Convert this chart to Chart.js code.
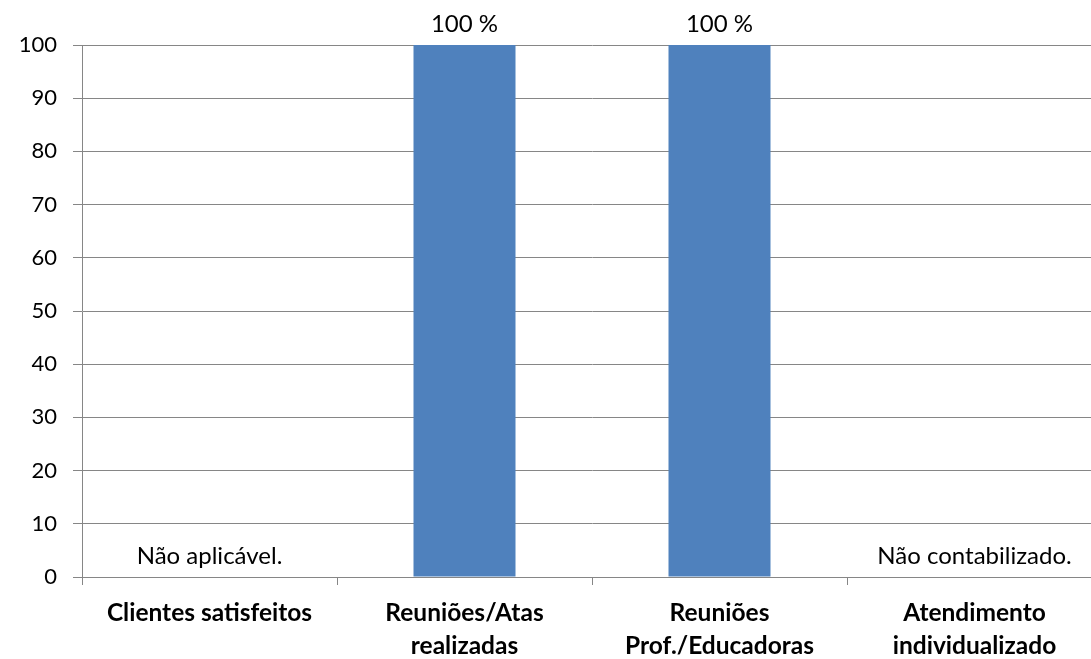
<!DOCTYPE html>
<html>
<head>
<meta charset="utf-8">
<script src="https://cdn.jsdelivr.net/npm/chart.js@4"></script>
<style>
  html, body { margin: 0; padding: 0; background: #fff; overflow: hidden; }
  #wrap { width: 1091px; height: 659px; overflow: hidden; position: relative; }
  canvas { display: block; }
</style>
</head>
<body>
<div id="wrap"><canvas id="c" width="1102" height="659"></canvas></div>
<script>
// Indicator categories (multi-line labels)
const categories = [
  'Clientes satisfeitos',
  ['Reuniões/Atas', 'realizadas'],
  ['Reuniões', 'Prof./Educadoras'],
  ['Atendimento', 'individualizado']
];
// Percent achieved; null where no figure exists
const values = [null, 100, 100, null];
// Text shown instead of a value where there is none
const notes = ['Não aplicável.', null, null, 'Não contabilizado.'];
const yTicks = [0, 10, 20, 30, 40, 50, 60, 70, 80, 90, 100];

const FONT = 'Lato, "Open Sans", sans-serif';
const GRID = '#868686';

const valueLabels = {
  id: 'valueLabels',
  afterDatasetsDraw(chart) {
    const ctx = chart.ctx;
    const xs = chart.scales.x, ys = chart.scales.y;
    ctx.save();
    ctx.font = '24px ' + FONT;
    ctx.fillStyle = '#000';
    ctx.textAlign = 'center';
    ctx.textBaseline = 'middle';
    values.forEach((v, i) => {
      const x = xs.getPixelForValue(i);
      const text = v == null ? notes[i] : v + ' %';
      const y = ys.getPixelForValue(v == null ? 0 : v) - 21;
      if (text) ctx.fillText(text, x, y);
    });
    ctx.restore();
  }
};

new Chart(document.getElementById('c'), {
  type: 'bar',
  data: {
    labels: categories,
    datasets: [{
      data: values,
      backgroundColor: '#4f81bd',
      borderWidth: 0,
      categoryPercentage: 1,
      barPercentage: 0.4
    }]
  },
  options: {
    responsive: false,
    animation: false,
    layout: { padding: { top: 45, left: 0, right: 0, bottom: 0 } },
    plugins: { legend: { display: false }, tooltip: { enabled: false } },
    scales: {
      x: {
        offset: true,
        grid: { display: true, drawOnChartArea: false, drawTicks: true, tickLength: 8, color: GRID, offset: true },
        border: { display: false },
        ticks: {
          color: '#000',
          padding: 12,
          maxRotation: 0,
          autoSkip: false,
          font: { family: FONT, size: 24.5, weight: 'bold', lineHeight: '33px' }
        },
        afterFit(scale) { scale.height = 82; }
      },
      y: {
        min: 0,
        max: 100,
        afterBuildTicks(scale) { scale.ticks = yTicks.map(v => ({ value: v })); },
        grid: { color: GRID, lineWidth: 1, tickLength: 9, drawTicks: true },
        border: { display: true, color: GRID, width: 1 },
        ticks: {
          color: '#000',
          padding: 16,
          font: { family: FONT, size: 22 }
        },
        afterFit(scale) { scale.width = 82; }
      }
    }
  },
  plugins: [valueLabels]
});
</script>
</body>
</html>
